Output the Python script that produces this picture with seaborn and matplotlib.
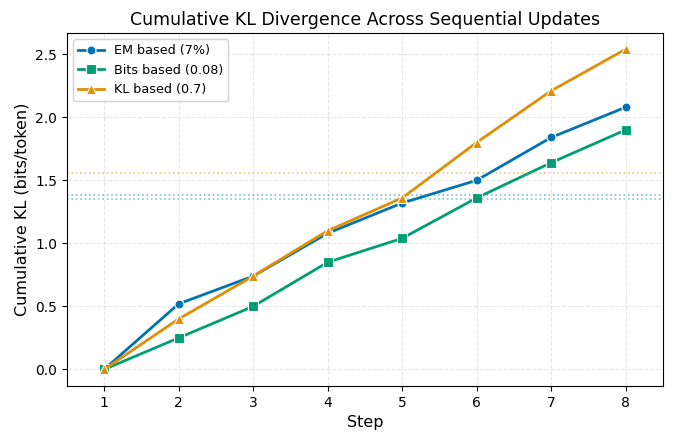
import numpy as np
import pandas as pd
import matplotlib
matplotlib.use("Agg")
import matplotlib.pyplot as plt
import seaborn as sns

# valores
steps = [1, 2, 3, 4, 5, 6, 7, 8]
em_based = [0.0, 0.52, 0.74, 1.08, 1.32, 1.50, 1.84, 2.08]
bits_based = [0.0, 0.25, 0.50, 0.85, 1.04, 1.36, 1.64, 1.90]
kl_based = [0.0, 0.40, 0.74, 1.10, 1.36, 1.80, 2.21, 2.54]
thresholds = [1.387, 1.349, 1.557]  # EM, Bits, KL
labels = ["EM based (7%)", "Bits based (0.08)", "KL based (0.7)"]
markers = ["o", "s", "^"]

cores = sns.color_palette("colorblind")
cores = [cores[0], cores[2], cores[1]]

tabela = pd.DataFrame({"Step": steps * 3,
                       "KL": em_based + bits_based + kl_based,
                       "Method": sum([[l] * len(steps) for l in labels], [])})

fig, ax = plt.subplots(figsize=(6.75, 4.44), dpi=100)

for i, lab in enumerate(labels):
    sub = tabela[tabela["Method"] == lab]
    sns.lineplot(data=sub, x="Step", y="KL", ax=ax, color=cores[i], marker=markers[i],
                 markersize=6.5, linewidth=2, label=lab, markeredgecolor="white",
                 markeredgewidth=0.8)
    ax.axhline(thresholds[i], color=cores[i], linestyle=":", linewidth=1.2, alpha=0.5)

ax.set_title("Cumulative KL Divergence Across Sequential Updates", fontsize=12.5)
ax.set_xlabel("Step", fontsize=11.5)
ax.set_ylabel("Cumulative KL (bits/token)", fontsize=11.5)
ax.set_xticks(steps)
ax.set_yticks([0.0, 0.5, 1.0, 1.5, 2.0, 2.5])
ax.set_xlim(0.5, 8.5)
ax.set_ylim(-0.13, 2.67)
ax.grid(True, linestyle="--", alpha=0.3)
ax.legend(loc="upper left", fontsize=9.2, framealpha=0.9)

plt.subplots_adjust(left=0.099, right=0.982, top=0.926, bottom=0.131)
plt.savefig("out.png", dpi=100)
